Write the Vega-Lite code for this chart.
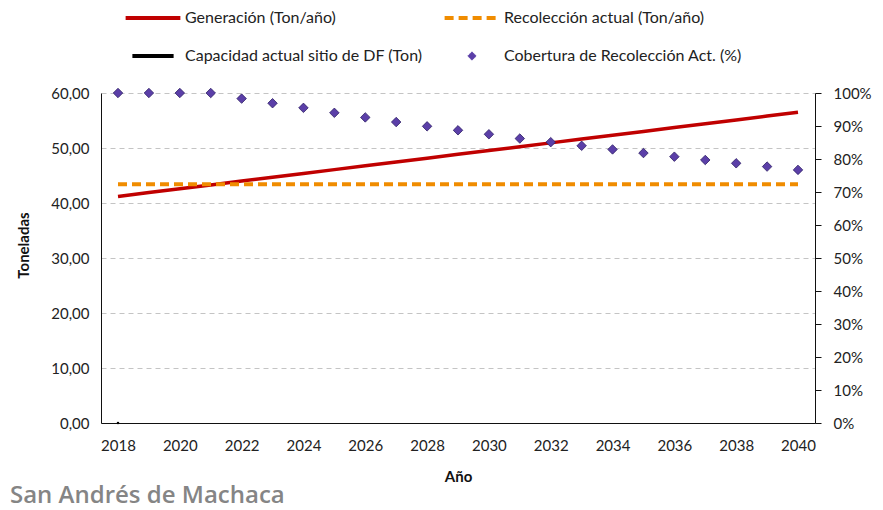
{
  "$schema": "https://vega.github.io/schema/vega-lite/v6.json",
  "autosize": "none",
  "width": 714,
  "height": 330,
  "padding": {"left": 101, "top": 93, "right": 68, "bottom": 87},
  "background": "white",
  "config": {
    "locale": {"number": {"decimal": ",", "thousands": ".", "grouping": [3], "currency": ["", " €"]}},
    "font": "Lato",
    "view": {"stroke": null},
    "axis": {"labelFont": "Lato", "titleFont": "Lato", "labelFontSize": 15, "titleFontSize": 15, "labelColor": "#222", "titleColor": "#111", "domainColor": "#111", "tickColor": "#111"}
  },
  "title": {"text": "San Andrés de Machaca", "orient": "bottom", "anchor": "start", "frame": "group", "color": "#858585", "fontSize": 24, "font": "Open Sans", "fontWeight": 600, "dx": -91, "offset": 0},
  "datasets": {
    "ton": [
      {"anio": 2018, "serie": "Generación (Ton/año)", "valor": 41.20},
      {"anio": 2019, "serie": "Generación (Ton/año)", "valor": 41.90},
      {"anio": 2020, "serie": "Generación (Ton/año)", "valor": 42.59},
      {"anio": 2021, "serie": "Generación (Ton/año)", "valor": 43.29},
      {"anio": 2022, "serie": "Generación (Ton/año)", "valor": 43.98},
      {"anio": 2023, "serie": "Generación (Ton/año)", "valor": 44.68},
      {"anio": 2024, "serie": "Generación (Ton/año)", "valor": 45.37},
      {"anio": 2025, "serie": "Generación (Ton/año)", "valor": 46.07},
      {"anio": 2026, "serie": "Generación (Ton/año)", "valor": 46.76},
      {"anio": 2027, "serie": "Generación (Ton/año)", "valor": 47.46},
      {"anio": 2028, "serie": "Generación (Ton/año)", "valor": 48.15},
      {"anio": 2029, "serie": "Generación (Ton/año)", "valor": 48.85},
      {"anio": 2030, "serie": "Generación (Ton/año)", "valor": 49.54},
      {"anio": 2031, "serie": "Generación (Ton/año)", "valor": 50.24},
      {"anio": 2032, "serie": "Generación (Ton/año)", "valor": 50.93},
      {"anio": 2033, "serie": "Generación (Ton/año)", "valor": 51.63},
      {"anio": 2034, "serie": "Generación (Ton/año)", "valor": 52.32},
      {"anio": 2035, "serie": "Generación (Ton/año)", "valor": 53.02},
      {"anio": 2036, "serie": "Generación (Ton/año)", "valor": 53.71},
      {"anio": 2037, "serie": "Generación (Ton/año)", "valor": 54.41},
      {"anio": 2038, "serie": "Generación (Ton/año)", "valor": 55.10},
      {"anio": 2039, "serie": "Generación (Ton/año)", "valor": 55.80},
      {"anio": 2040, "serie": "Generación (Ton/año)", "valor": 56.49},
      {"anio": 2018, "serie": "Recolección actual (Ton/año)", "valor": 43.4},
      {"anio": 2019, "serie": "Recolección actual (Ton/año)", "valor": 43.4},
      {"anio": 2020, "serie": "Recolección actual (Ton/año)", "valor": 43.4},
      {"anio": 2021, "serie": "Recolección actual (Ton/año)", "valor": 43.4},
      {"anio": 2022, "serie": "Recolección actual (Ton/año)", "valor": 43.4},
      {"anio": 2023, "serie": "Recolección actual (Ton/año)", "valor": 43.4},
      {"anio": 2024, "serie": "Recolección actual (Ton/año)", "valor": 43.4},
      {"anio": 2025, "serie": "Recolección actual (Ton/año)", "valor": 43.4},
      {"anio": 2026, "serie": "Recolección actual (Ton/año)", "valor": 43.4},
      {"anio": 2027, "serie": "Recolección actual (Ton/año)", "valor": 43.4},
      {"anio": 2028, "serie": "Recolección actual (Ton/año)", "valor": 43.4},
      {"anio": 2029, "serie": "Recolección actual (Ton/año)", "valor": 43.4},
      {"anio": 2030, "serie": "Recolección actual (Ton/año)", "valor": 43.4},
      {"anio": 2031, "serie": "Recolección actual (Ton/año)", "valor": 43.4},
      {"anio": 2032, "serie": "Recolección actual (Ton/año)", "valor": 43.4},
      {"anio": 2033, "serie": "Recolección actual (Ton/año)", "valor": 43.4},
      {"anio": 2034, "serie": "Recolección actual (Ton/año)", "valor": 43.4},
      {"anio": 2035, "serie": "Recolección actual (Ton/año)", "valor": 43.4},
      {"anio": 2036, "serie": "Recolección actual (Ton/año)", "valor": 43.4},
      {"anio": 2037, "serie": "Recolección actual (Ton/año)", "valor": 43.4},
      {"anio": 2038, "serie": "Recolección actual (Ton/año)", "valor": 43.4},
      {"anio": 2039, "serie": "Recolección actual (Ton/año)", "valor": 43.4},
      {"anio": 2040, "serie": "Recolección actual (Ton/año)", "valor": 43.4},
      {"anio": 2018, "serie": "Capacidad actual sitio de DF (Ton)", "valor": 0}
    ],
    "cob": [
      {"anio": 2018, "serie": "Cobertura de Recolección Act. (%)", "cobertura": 1.0},
      {"anio": 2019, "serie": "Cobertura de Recolección Act. (%)", "cobertura": 1.0},
      {"anio": 2020, "serie": "Cobertura de Recolección Act. (%)", "cobertura": 1.0},
      {"anio": 2021, "serie": "Cobertura de Recolección Act. (%)", "cobertura": 1.0},
      {"anio": 2022, "serie": "Cobertura de Recolección Act. (%)", "cobertura": 0.983},
      {"anio": 2023, "serie": "Cobertura de Recolección Act. (%)", "cobertura": 0.969},
      {"anio": 2024, "serie": "Cobertura de Recolección Act. (%)", "cobertura": 0.955},
      {"anio": 2025, "serie": "Cobertura de Recolección Act. (%)", "cobertura": 0.940},
      {"anio": 2026, "serie": "Cobertura de Recolección Act. (%)", "cobertura": 0.926},
      {"anio": 2027, "serie": "Cobertura de Recolección Act. (%)", "cobertura": 0.912},
      {"anio": 2028, "serie": "Cobertura de Recolección Act. (%)", "cobertura": 0.899},
      {"anio": 2029, "serie": "Cobertura de Recolección Act. (%)", "cobertura": 0.887},
      {"anio": 2030, "serie": "Cobertura de Recolección Act. (%)", "cobertura": 0.875},
      {"anio": 2031, "serie": "Cobertura de Recolección Act. (%)", "cobertura": 0.862},
      {"anio": 2032, "serie": "Cobertura de Recolección Act. (%)", "cobertura": 0.851},
      {"anio": 2033, "serie": "Cobertura de Recolección Act. (%)", "cobertura": 0.840},
      {"anio": 2034, "serie": "Cobertura de Recolección Act. (%)", "cobertura": 0.829},
      {"anio": 2035, "serie": "Cobertura de Recolección Act. (%)", "cobertura": 0.818},
      {"anio": 2036, "serie": "Cobertura de Recolección Act. (%)", "cobertura": 0.807},
      {"anio": 2037, "serie": "Cobertura de Recolección Act. (%)", "cobertura": 0.797},
      {"anio": 2038, "serie": "Cobertura de Recolección Act. (%)", "cobertura": 0.787},
      {"anio": 2039, "serie": "Cobertura de Recolección Act. (%)", "cobertura": 0.777},
      {"anio": 2040, "serie": "Cobertura de Recolección Act. (%)", "cobertura": 0.767}
    ]
  },
  "resolve": {"scale": {"y": "independent"}},
  "layer": [
    {
      "data": {"name": "ton"},
      "encoding": {
        "x": {"field": "anio", "type": "quantitative", "scale": {"domain": [2017.45, 2040.55], "nice": false, "zero": false},
              "axis": {"values": [2018, 2020, 2022, 2024, 2026, 2028, 2030, 2032, 2034, 2036, 2038, 2040], "format": "d", "title": "Año", "titleFontWeight": "bold", "ticks": false, "grid": false, "labelPadding": 15, "titlePadding": 16, "labelFlush": false}},
        "y": {"field": "valor", "type": "quantitative", "scale": {"domain": [0, 60], "nice": false},
              "axis": {"orient": "left", "values": [0, 10, 20, 30, 40, 50, 60], "format": ".2f", "title": "Toneladas", "titleFontWeight": "bold", "titleY": 152, "ticks": false, "grid": true, "gridDash": [5, 4], "gridColor": "#c4c4c4", "labelPadding": 12, "titlePadding": 19}}
      },
      "layer": [
        {
          "transform": [{"filter": "datum.serie === 'Generación (Ton/año)'"}],
          "mark": {"type": "line", "strokeWidth": 3.5},
          "encoding": {
            "color": {"field": "serie", "type": "nominal",
              "scale": {"domain": ["Generación (Ton/año)", "Capacidad actual sitio de DF (Ton)", "Recolección actual (Ton/año)", "Cobertura de Recolección Act. (%)"], "range": ["#c00000", "#000000", "#f08c00", "#5b3fa8"]},
              "legend": {"title": null, "orient": "none", "legendX": 24, "legendY": -83, "columns": 2, "columnPadding": 13, "rowPadding": 22, "labelFontSize": 16, "labelFont": "Lato", "labelColor": "#222", "labelOffset": 24, "symbolOffset": 20, "labelLimit": 400, "symbolStrokeWidth": 4,
                "encode": {"symbols": {"update": {
                  "shape": {"signal": "datum.value === 'Cobertura de Recolección Act. (%)' ? 'diamond' : 'stroke'"},
                  "size": {"signal": "datum.value === 'Cobertura de Recolección Act. (%)' ? 70 : (datum.value === 'Capacidad actual sitio de DF (Ton)' ? 1700 : 3000)"},
                  "strokeDash": {"signal": "datum.value === 'Recolección actual (Ton/año)' ? [9, 5] : [1, 0]"},
                  "strokeWidth": {"signal": "datum.value === 'Cobertura de Recolección Act. (%)' ? 0.8 : 4"},
                  "fill": {"signal": "datum.value === 'Cobertura de Recolección Act. (%)' ? '#5b3fa8' : 'transparent'"},
                  "stroke": {"signal": "datum.value === 'Cobertura de Recolección Act. (%)' ? '#2e1f66' : scale('color', datum.value)"},
                  "opacity": {"value": 1}
                }}}}
            }
          }
        },
        {
          "transform": [{"filter": "datum.serie === 'Recolección actual (Ton/año)'"}],
          "mark": {"type": "line", "strokeWidth": 4, "strokeDash": [9, 5]},
          "encoding": {"color": {"field": "serie", "type": "nominal", "legend": null}}
        },
        {
          "transform": [{"filter": "datum.serie === 'Capacidad actual sitio de DF (Ton)'"}],
          "mark": {"type": "point", "shape": "square", "size": 5, "filled": true, "opacity": 1},
          "encoding": {"color": {"field": "serie", "type": "nominal", "legend": null}}
        }
      ]
    },
    {
      "data": {"name": "cob"},
      "mark": {"type": "point", "shape": "diamond", "size": 90, "filled": true, "opacity": 1, "stroke": "#2e1f66", "strokeWidth": 0.8},
      "encoding": {
        "x": {"field": "anio", "type": "quantitative"},
        "y": {"field": "cobertura", "type": "quantitative", "scale": {"domain": [0, 1], "nice": false},
              "axis": {"orient": "right", "values": [0, 0.1, 0.2, 0.3, 0.4, 0.5, 0.6, 0.7, 0.8, 0.9, 1], "format": ".0%", "title": null, "ticks": true, "tickSize": 6, "grid": false, "labelPadding": 12}},
        "color": {"field": "serie", "type": "nominal", "legend": null}
      }
    }
  ]
}
